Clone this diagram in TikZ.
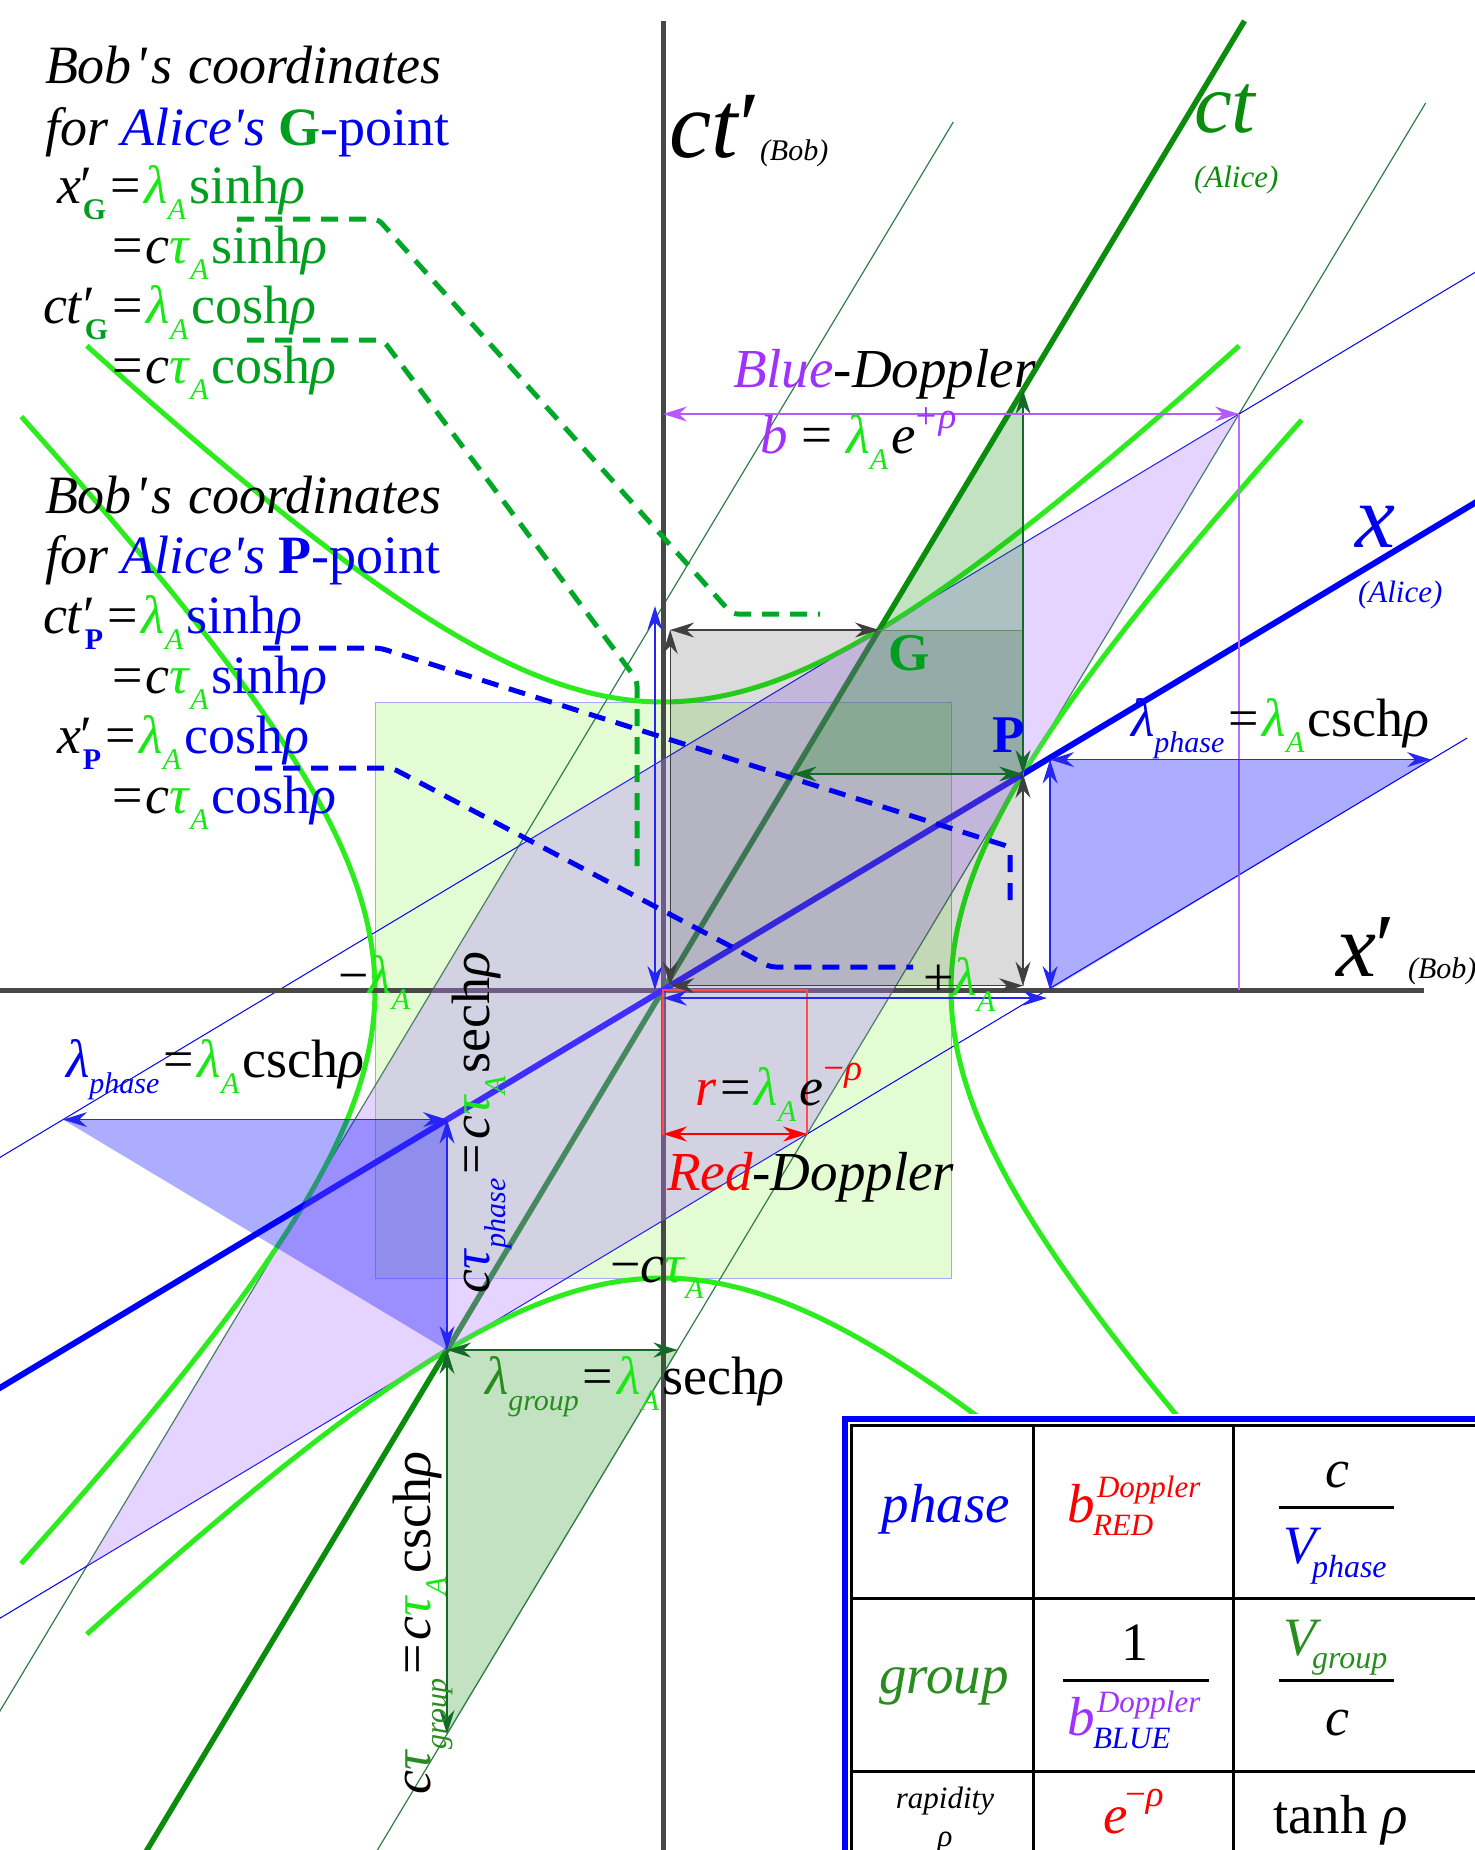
\documentclass[tikz,border=0pt]{standalone}
\usepackage{fontspec}
\setmainfont{Liberation Serif}
\usetikzlibrary{arrows.meta}
\definecolor{bg}{RGB}{25,232,20}
\definecolor{hg}{RGB}{45,236,30}
\definecolor{dg}{RGB}{0,158,30}
\definecolor{ag}{RGB}{12,140,12}
\definecolor{tg}{RGB}{50,125,75}
\definecolor{arrg}{RGB}{20,105,40}
\definecolor{grp}{RGB}{40,140,30}
\definecolor{pur}{RGB}{160,50,255}
\definecolor{bl}{RGB}{0,0,240}
\definecolor{axg}{RGB}{72,72,72}
\definecolor{sqg}{RGB}{188,248,148}
\definecolor{pfill}{RGB}{181,132,255}
\definecolor{dashg}{RGB}{0,168,40}
\newcommand\fsz[1]{\fontsize{#1}{#1}\selectfont}
\newcommand\sub[1]{\raisebox{-0.3em}{\fsz{30}#1}}
\newcommand\supx[1]{\raisebox{0.45em}{\fsz{37}#1}}
\newcommand\lamA{\textcolor{bg}{\textit{λ}\sub{\textit{A}}}\kern3pt}
\newcommand\tauA{\textcolor{bg}{\textit{τ}\sub{\textit{A}}}\kern3pt}
\newcommand\eq{\kern4pt=\kern4pt}
\newcommand\rh{\textit{ρ}}
\newcommand\qs{\textquotesingle}
\tikzset{
  lab/.style={anchor=base west, inner sep=0pt, outer sep=0pt, font=\fsz{54}},
  thinG/.style={tg, line width=1.2pt},
  thinB/.style={bl, line width=1pt},
  hyp/.style={hg, line width=5pt},
  arrK/.style={<->, draw=black!75, line width=1.2pt},
  arrBl/.style={<->, draw=bl!85, line width=1.2pt},
  arrGr/.style={<->, draw=arrg, line width=1.2pt},
  dashGr/.style={dashg, line width=5pt, dash pattern=on 17pt off 11pt, rounded corners=6pt},
  dashBl/.style={bl, line width=5pt, dash pattern=on 17pt off 11pt, rounded corners=6pt},
}
\begin{document}
\begin{tikzpicture}[x=1pt,y=-1pt, >={Stealth[length=24pt,width=15pt,inset=8pt]}]
\useasboundingbox (0,0) rectangle (1475,1850);
\clip (0,0) rectangle (1475,1850);
\fill[white] (0,0) rectangle (1475,1850);

\begin{scope}[shift={(663,990)}, x=288pt, y=288pt]
\coordinate (O) at (0,0);
\coordinate (G) at (0.75,1.25);
\coordinate (P) at (1.25,0.75);
\coordinate (B) at (2,2);
\coordinate (nG) at (-0.75,-1.25);
\coordinate (GmP) at (-0.5,0.5);
\coordinate (nB) at (-2,-2);
\coordinate (R) at (0.5,-0.5);
% light green square
\fill[sqg, fill opacity=0.4] (-1,-1) rectangle (1,1);
\draw[blue!35, line width=1pt] (-1,-1) rectangle (1,1);
% thin lines
\coordinate (L1a) at (-2.72,-3.2); \coordinate (L1b) at (1.008,3.014);
\coordinate (L2a) at (-1.12,-3.2); \coordinate (L2b) at (2.648,3.08);
\coordinate (L3a) at (-2.5,-0.7); \coordinate (L3b) at (3,2.6);
\coordinate (L4a) at (-2.5,-2.3); \coordinate (L4b) at (2.792,0.875);
\draw[thinG] (L1a) -- (L1b);
\draw[thinG] (L2a) -- (L2b);
\draw[thinB] (L3a) -- (L3b);
\draw[thinB] (L4a) -- (L4b);
% hyperbolas
\draw[hyp] plot[domain=-1.5:1.435, samples=70, smooth] ({cosh(\x)},{sinh(\x)});
\draw[hyp] plot[domain=-1.44:1.44, samples=70, smooth] ({-cosh(\x)},{sinh(\x)});
\draw[hyp] plot[domain=-1.444:1.444, samples=70, smooth] ({sinh(\x)},{cosh(\x)});
\draw[hyp] plot[domain=-1.444:1.5, samples=70, smooth] ({sinh(\x)},{-cosh(\x)});
% Bob axes
\coordinate (ctpa) at (0,-3.2); \coordinate (ctpb) at (0,3.365);
\coordinate (xpa) at (-2.5,0); \coordinate (xpb) at (2.642,0);
\draw[axg, line width=5pt] (ctpa) -- (ctpb);
\draw[axg, line width=5pt] (xpa) -- (xpb);
% Alice axes
\coordinate (cta) at (-1.92,-3.2); \coordinate (ctb) at (2.019,3.365);
\coordinate (xa) at (-2.5,-1.5); \coordinate (xb) at (3,1.8);
\draw[ag, line width=5.5pt] (cta) -- (ctb);
\draw[blue, line width=6pt] (xa) -- (xb);
% purple vertical
\coordinate (pb) at (2,0);
\draw[pur!70, line width=1.3pt] (B) -- (pb);
% purple parallelogram
\fill[pfill, fill opacity=0.35] (B) -- (GmP) -- (nB) -- (R) -- cycle;
% gray square
\coordinate (k1) at (0.025,0.015);
\coordinate (k2) at (0.025,1.25);
\coordinate (k3) at (1.25,0.015);
\coordinate (k4) at (1.25,1.25);
\fill[black, fill opacity=0.14] (k1) rectangle (k4);
\draw[black!45, line width=1pt] (k1) rectangle (k4);
% green triangles
\coordinate (ga) at (0.45,0.75);
\coordinate (gb) at (1.25,2.0833);
\coordinate (gc) at (0.05,-1.25);
\coordinate (gd) at (-0.75,-2.5833);
\fill[ag, fill opacity=0.25] (ga) -- (P) -- (gb) -- cycle;
\fill[ag, fill opacity=0.25] (nG) -- (gc) -- (gd) -- cycle;
\draw[tg, line width=1pt, draw opacity=0.6] (nG) -- (gc) -- (gd) -- cycle;
% blue triangles
\coordinate (bc1) at (1.344,0);
\coordinate (bc2) at (1.344,0.8);
\coordinate (bc3) at (2.667,0.8);
\coordinate (bd1) at (-0.75,-0.45);
\coordinate (bd2) at (-2.083,-0.45);
\fill[blue, fill opacity=0.32] (bc1) -- (bc2) -- (bc3) -- cycle;
\fill[blue, fill opacity=0.32] (bd2) -- (bd1) -- (nG) -- cycle;
% red rectangle
\coordinate (ra) at (0,-0.5);
\coordinate (rb) at (0.5,-0.5);
\draw[red!70, line width=1.2pt] (O) rectangle (rb);
% arrows
\draw[arrK] (k1) -- (k2);
\draw[arrK] (k2) -- (G);
\draw[arrK] (k1) -- (k3);
\draw[arrK] (k3) -- (P);
\draw[arrGr] (ga) -- (P);
\draw[arrGr] (P) -- (gb);
\draw[arrGr] (nG) -- (gc);
\draw[arrGr] (nG) -- (gd);
\coordinate (ba1) at (-0.028,0); \coordinate (ba2) at (-0.028,1.333);
\coordinate (bb1) at (0,-0.028); \coordinate (bb2) at (1.333,-0.028);
\draw[arrBl] (ba1) -- (ba2);
\draw[arrBl] (bb1) -- (bb2);
\draw[arrBl] (bc1) -- (bc2);
\draw[arrBl] (bc2) -- (bc3);
\draw[arrBl] (bd1) -- (bd2);
\draw[arrBl] (bd1) -- (nG);
\coordinate (pa) at (0,2);
\draw[<->, draw=pur!80, line width=1.2pt] (pa) -- (B);
\draw[<->, draw=red, line width=1.4pt] (ra) -- (rb);
\end{scope}

% dashed leader lines
\coordinate (dga1) at (237,219); \coordinate (dga2) at (378,219);
\coordinate (dga3) at (732,614); \coordinate (dga4) at (820,614);
\coordinate (dgb1) at (247,340); \coordinate (dgb2) at (383,340);
\coordinate (dgb3) at (637,680); \coordinate (dgb4) at (637,872);
\coordinate (dba1) at (263,648); \coordinate (dba2) at (380,648);
\coordinate (dba3) at (1010,847); \coordinate (dba4) at (1010,910);
\coordinate (dbb1) at (255,768); \coordinate (dbb2) at (392,768);
\coordinate (dbb3) at (770,967); \coordinate (dbb4) at (913,967);
\draw[dashGr] (dga1) -- (dga2) -- (dga3) -- (dga4);
\draw[dashGr] (dgb1) -- (dgb2) -- (dgb3) -- (dgb4);
\draw[dashBl] (dba1) -- (dba2) -- (dba3) -- (dba4);
\draw[dashBl] (dbb1) -- (dbb2) -- (dbb3) -- (dbb4);

% top-left text block G
\node[lab] (t1a) at (45,83) {\textit{Bob\kern4pt\qs\kern4pt s\hspace{16pt}coordinates}};
\node[lab] (t1b) at (45,145) {\textit{for} \textcolor{bl}{\textit{Alice\qs s}} \textcolor{dg}{\textbf{G}}\textcolor{bl}{-point}};
\node[lab] (t1c) at (57,203) {\textit{x}′\kern-10pt\sub{\textcolor{dg}{\textbf{G}}}\eq\lamA\textcolor{dg}{sinh\rh}};
\node[lab] (t1d) at (112,263) {=\kern3pt\textit{c}\tauA\textcolor{dg}{sinh\rh}};
\node[lab] (t1e) at (43,323) {\textit{ct}′\kern-10pt\sub{\textcolor{dg}{\textbf{G}}}\eq\lamA\textcolor{dg}{cosh\rh}};
\node[lab] (t1f) at (112,383) {=\kern3pt\textit{c}\tauA\textcolor{dg}{cosh\rh}};
% block P
\node[lab] (t2a) at (45,513) {\textit{Bob\kern4pt\qs\kern4pt s\hspace{16pt}coordinates}};
\node[lab] (t2b) at (45,573) {\textit{for} \textcolor{bl}{\textit{Alice\qs s}} \textcolor{bl}{\textbf{P}-point}};
\node[lab] (t2c) at (43,633) {\textit{ct}′\kern-10pt\sub{\textcolor{bl}{\textbf{P}}}\eq\lamA\textcolor{bl}{sinh\rh}};
\node[lab] (t2d) at (112,693) {=\kern3pt\textit{c}\tauA\textcolor{bl}{sinh\rh}};
\node[lab] (t2e) at (57,753) {\textit{x}′\kern-10pt\sub{\textcolor{bl}{\textbf{P}}}\eq\lamA\textcolor{bl}{cosh\rh}};
\node[lab] (t2f) at (112,813) {=\kern3pt\textit{c}\tauA\textcolor{bl}{cosh\rh}};

% axis labels
\node[lab, font=\fsz{95}] (lctp) at (669,157) {\textit{ct}′};
\node[lab, font=\fsz{30}] (lbob1) at (760,160) {\textit{(Bob)}};
\node[lab, font=\fsz{85}, text=ag] (lct) at (1194,132) {\textit{ct}};
\node[lab, font=\fsz{31}, text=ag] (lal1) at (1194,187) {\textit{(Alice)}};
\node[lab, font=\fsz{90}, text=bl] (lx) at (1355,547) {\textit{x}};
\node[lab, font=\fsz{31}, text=bl] (lal2) at (1358,602) {\textit{(Alice)}};
\node[lab, font=\fsz{90}] (lxp) at (1336,976) {\textit{x}′};
\node[lab, font=\fsz{30}] (lbob2) at (1408,978) {\textit{(Bob)}};

% other labels
\node[lab, font=\fsz{55}] (lbd) at (733,387) {\textit{\textcolor{pur}{Blue}-Doppler}};
\node[lab, font=\fsz{55}] (lbeq) at (760,453) {\textcolor{pur}{\textit{b}} = \lamA\textit{e}\supx{\textcolor{pur}{+\kern2pt\textit{ρ}}}};
\node[lab, font=\fsz{53}, text=dg] (lG) at (888,670) {\textbf{G}};
\node[lab, font=\fsz{53}, text=bl] (lP) at (992,752) {\textbf{P}};
\node[lab] (lphr) at (1131,736) {\textcolor{bl}{\textit{λ}\sub{\textit{phase}}}\eq\lamA csch\rh};
\node[lab] (lpla) at (923,995) {+\lamA};
\node[lab] (lmla) at (338,993) {−\lamA};
\node[lab] (lphl) at (66,1077) {\textcolor{bl}{\textit{λ}\sub{\textit{phase}}}\eq\lamA csch\rh};
\node[lab] (lr) at (695,1105) {\textcolor{red}{\textit{r}}\eq\lamA\textit{e}\supx{\textcolor{red}{−\textit{ρ}}}};
\node[lab, font=\fsz{55}] (lrd) at (667,1190) {\textit{\textcolor{red}{Red}-Doppler}};
\node[lab] (lmct) at (610,1282) {−\textit{c}\tauA};
\node[lab] (lgr) at (485,1394) {\textcolor{grp}{\textit{λ}\sub{\textit{group}}}\eq\lamA sech\rh};
\node[lab, rotate=90] (lctph) at (489,1293) {\textit{c}\textcolor{bl}{\textit{τ}\sub{\textit{phase}}}\eq\textit{c}\tauA sech\rh};
\node[lab, rotate=90] (lctgr) at (430,1794) {\textit{c}\textcolor{grp}{\textit{τ}\sub{\textit{group}}}\eq\textit{c}\tauA csch\rh};

% table
\fill[white] (842,1414) rectangle (1480,1860);
\draw[blue, line width=6pt] (845,1860) -- (845,1419) -- (1480,1419);
\draw[black, line width=3pt] (851.5,1860) -- (851.5,1425.5) -- (1480,1425.5);
\draw[black, line width=3pt] (851.5,1598) -- (1480,1598);
\draw[black, line width=3pt] (851.5,1771) -- (1480,1771);
\draw[black, line width=3pt] (1033.5,1425.5) -- (1033.5,1860);
\draw[black, line width=3pt] (1233,1425.5) -- (1233,1860);
\draw[black, line width=3pt] (1279,1507) -- (1394,1507);
\draw[black, line width=3pt] (1063,1680) -- (1209,1680);
\draw[black, line width=3pt] (1279,1680) -- (1394,1680);
\node[anchor=base, inner sep=0pt, font=\fsz{55}, text=bl] (tph) at (946,1522) {\textit{phase}};
\node[lab, font=\fsz{55}, text=red] (tb1) at (1067,1522) {\textit{b}};
\node[lab, font=\fsz{31}, text=red] (tb1s) at (1097,1497) {\textit{Doppler}};
\node[lab, font=\fsz{31}, text=red] (tb1r) at (1093,1535) {\textit{RED}};
\node[anchor=base, inner sep=0pt, font=\fsz{54}] (tc1) at (1337,1487) {\textit{c}};
\node[lab, font=\fsz{54}, text=bl] (tv1) at (1283,1563) {\textit{V}};
\node[lab, font=\fsz{32}, text=bl] (tv1s) at (1312,1577) {\textit{phase}};
\node[anchor=base, inner sep=0pt, font=\fsz{55}, text=grp] (tgr) at (944,1693) {\textit{group}};
\node[anchor=base, inner sep=0pt, font=\fsz{54}] (tone) at (1135,1660) {1};
\node[lab, font=\fsz{55}, text=pur] (tb2) at (1067,1735) {\textit{b}};
\node[lab, font=\fsz{31}, text=pur] (tb2s) at (1097,1712) {\textit{Doppler}};
\node[lab, font=\fsz{31}, text=bl] (tb2r) at (1093,1748) {\textit{BLUE}};
\node[lab, font=\fsz{54}, text=grp] (tv2) at (1283,1655) {\textit{V}};
\node[lab, font=\fsz{32}, text=grp] (tv2s) at (1312,1668) {\textit{group}};
\node[anchor=base, inner sep=0pt, font=\fsz{54}] (tc2) at (1337,1735) {\textit{c}};
\node[anchor=base, inner sep=0pt, font=\fsz{31}] (trap) at (945,1808) {\textit{rapidity}};
\node[anchor=base, inner sep=0pt, font=\fsz{31}] (trho) at (945,1846) {\textit{ρ}};
\node[lab, font=\fsz{55}, text=red] (te) at (1103,1833) {\textit{e}};
\node[lab, font=\fsz{37}, text=red] (tes) at (1125,1806) {−\textit{ρ}};
\node[lab, font=\fsz{55}] (ttanh) at (1273,1833) {tanh \textit{ρ}};
\end{tikzpicture}
\end{document}
